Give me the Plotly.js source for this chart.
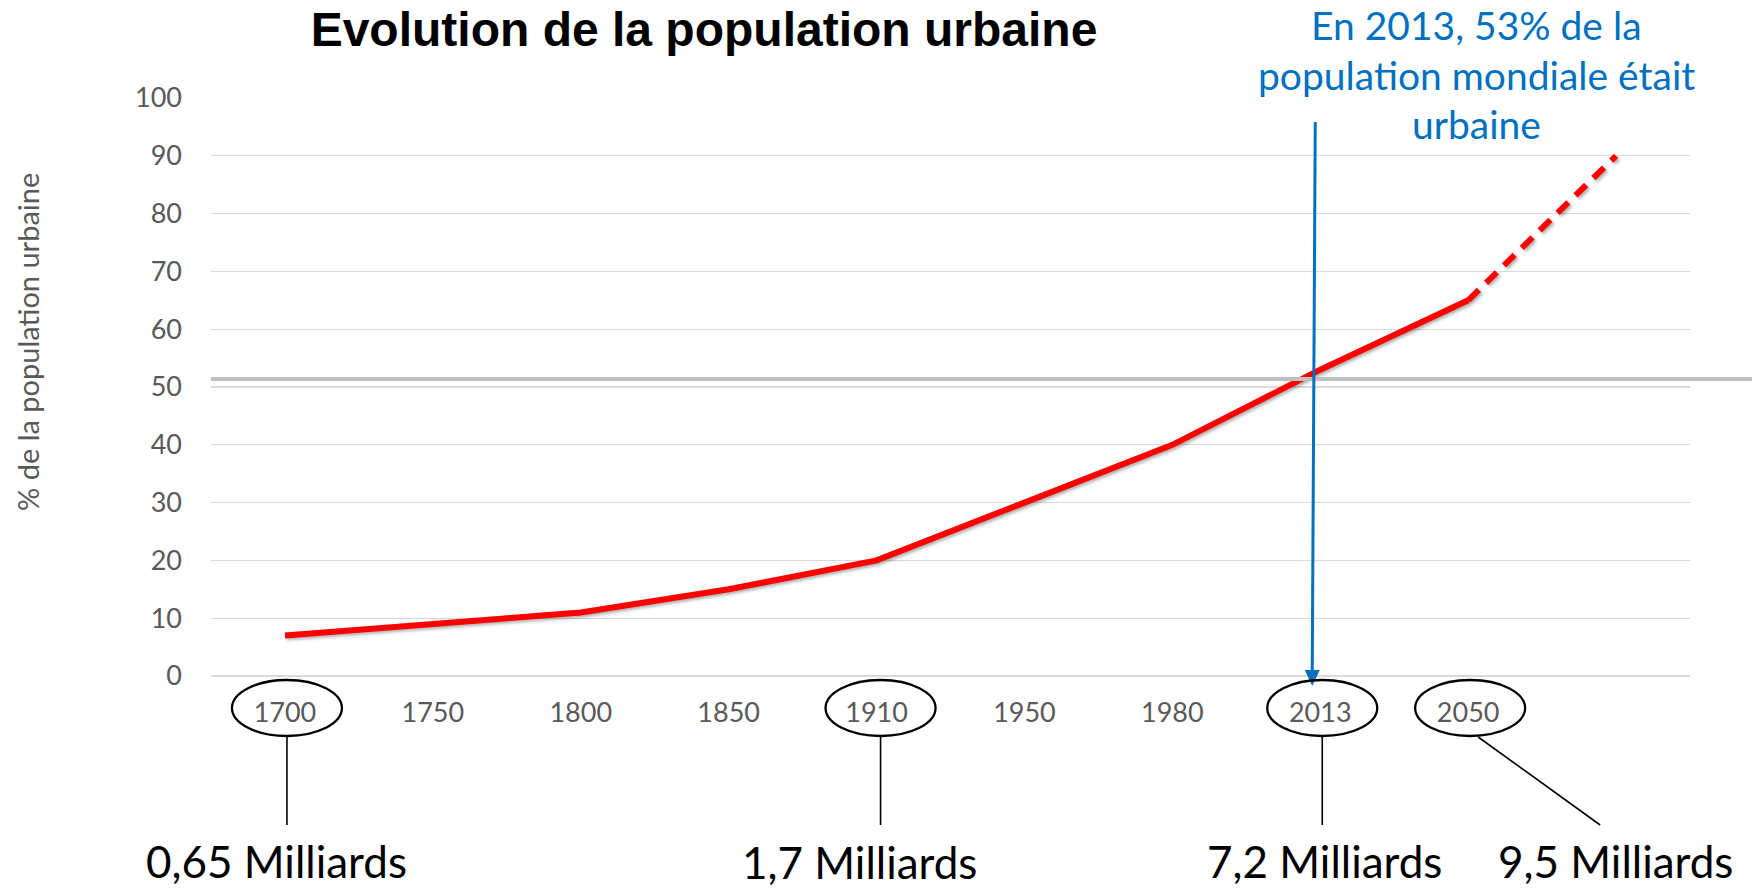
<!DOCTYPE html>
<html>
<head>
<meta charset="utf-8">
<script src="https://cdn.plot.ly/plotly-3.0.1.min.js"></script>
<style>
html, body { margin:0; padding:0; background:#ffffff; }
#chart { width:1752px; height:889px; }
</style>
</head>
<body>
<div id="chart"></div>
<script>
// ---------- data ----------
const years = ['1700', '1750', '1800', '1850', '1910', '1950', '1980', '2013', '2050', ' '];
const urbanPct = [7, 9, 11, 15, 20, 30, 40, 53, 65, null];
const projYears = ['2050', ' '];
const projPct = [65, 90];
const yTickVals = [0, 10, 20, 30, 40, 50, 60, 70, 80, 90, 100];
const circledYears = ['1700', '1910', '2013', '2050'];
const popLabels = ['0,65 Milliards', '1,7 Milliards', '7,2 Milliards', '9,5 Milliards'];
const refYear = '2013';
const refLineLevel = 51.4;
const titleText = 'Evolution de la population urbaine';
const yTitleText = '% de la population urbaine';
const noteLines = ['En 2013, 53% de la', 'population mondiale était', 'urbaine'];

// ---------- geometry helpers ----------
const W = 1752, H = 889;
const M = { l: 211, r: 62, t: 98, b: 213 };
const PW = W - M.l - M.r, PH = H - M.t - M.b;
const px2x = px => (px - M.l) / PW;
const px2y = py => (H - M.b - py) / PH;
const catPx = yr => M.l + (years.indexOf(yr) + 0.5) * PW / years.length;

const FONT = 'Lato, "Open Sans", sans-serif';
const shapes = [];
const annotations = [];

// reference grey line (spans past the plot to the right edge)
shapes.push({
  type: 'line', xref: 'paper', yref: 'paper', layer: 'above',
  x0: 0, x1: (W - M.l) / PW, y0: refLineLevel / 100, y1: refLineLevel / 100,
  line: { color: '#BFBFBF', width: 4 }
});

// blue arrow toward 2013
const ax = catPx(refYear) - 8;
shapes.push({
  type: 'line', xref: 'paper', yref: 'paper', layer: 'above',
  x0: px2x(ax + 3), y0: px2y(122), x1: px2x(ax), y1: px2y(672),
  line: { color: '#0070C0', width: 3 }
});
shapes.push({
  type: 'path', xref: 'paper', yref: 'paper', layer: 'above',
  path: 'M ' + px2x(ax - 7.5) + ' ' + px2y(670) + ' L ' + px2x(ax + 7.5) + ' ' + px2y(670) +
        ' L ' + px2x(ax) + ' ' + px2y(686) + ' Z',
  fillcolor: '#0070C0', line: { width: 0 }
});

// ellipses + connectors + population labels
const labelDx = [-10, -21, 2, 145];
const labelBase = [878, 879, 878, 878];
circledYears.forEach((yr, i) => {
  const cx = catPx(yr) + (i === 1 ? 4 : 2);
  shapes.push({
    type: 'circle', xref: 'paper', yref: 'paper', layer: 'above',
    x0: px2x(cx - 55), x1: px2x(cx + 55), y0: px2y(680), y1: px2y(736),
    line: { color: '#000000', width: 2.3 }
  });
  if (i < 3) {
    shapes.push({
      type: 'line', xref: 'paper', yref: 'paper',
      x0: px2x(cx), x1: px2x(cx), y0: px2y(737), y1: px2y(825),
      line: { color: '#000000', width: 1.6 }
    });
  } else {
    shapes.push({
      type: 'line', xref: 'paper', yref: 'paper',
      x0: px2x(cx + 8), x1: px2x(cx + 130), y0: px2y(737), y1: px2y(825),
      line: { color: '#000000', width: 1.6 }
    });
  }
  const fs = 44;
  annotations.push({
    xref: 'paper', yref: 'paper', x: px2x(cx + labelDx[i]), y: px2y(labelBase[i] - 0.387 * fs),
    xanchor: 'center', yanchor: 'middle', showarrow: false,
    text: popLabels[i], font: { family: FONT, size: fs, color: '#000000' }
  });
});

// blue note
const noteFs = 39;
const noteBase = [40, 90, 139.5];
noteLines.forEach((t, i) => {
  annotations.push({
    xref: 'paper', yref: 'paper', x: px2x(1476.5), y: px2y(noteBase[i] - 0.387 * noteFs),
    xanchor: 'center', yanchor: 'middle', showarrow: false,
    text: t, font: { family: FONT, size: noteFs, color: '#0070C0' }
  });
});

// y axis title
annotations.push({
  xref: 'paper', yref: 'paper', x: px2x(27), y: px2y(342),
  xanchor: 'center', yanchor: 'middle', showarrow: false, textangle: -90,
  text: yTitleText, font: { family: FONT, size: 29, color: '#595959' }
});

const traces = [
  {
    type: 'scatter', mode: 'lines', x: years, y: urbanPct,
    line: { color: '#FF0000', width: 6 }, connectgaps: false, hoverinfo: 'skip'
  },
  {
    type: 'scatter', mode: 'lines', x: projYears, y: projPct,
    line: { color: '#FF0000', width: 6, dash: '15px,10px' }, hoverinfo: 'skip'
  }
];

const layout = {
  width: W, height: H,
  margin: M,
  paper_bgcolor: '#ffffff', plot_bgcolor: '#ffffff',
  showlegend: false,
  title: {
    text: titleText, x: 704 / W, xanchor: 'center', xref: 'container',
    y: 1 - 28.9 / H, yanchor: 'middle', yref: 'container',
    font: { family: '"Liberation Sans", Arial, sans-serif', size: 48, color: '#000000', weight: 700 }
  },
  xaxis: {
    type: 'category', categoryorder: 'array', categoryarray: years,
    range: [-0.5, years.length - 0.5], fixedrange: true,
    showgrid: false, zeroline: false, showline: false, ticks: '',
    ticklabelstandoff: 18,
    tickfont: { family: FONT, size: 27, color: '#595959' }
  },
  yaxis: {
    range: [0, 100], tickvals: yTickVals, fixedrange: true,
    showgrid: true, gridcolor: '#D9D9D9', gridwidth: 1.3,
    zeroline: true, zerolinecolor: '#D9D9D9', zerolinewidth: 1.3,
    showline: false, ticks: '', ticklabelstandoff: 28,
    tickfont: { family: FONT, size: 27, color: '#595959' }
  },
  shapes: shapes,
  annotations: annotations
};

Plotly.newPlot('chart', traces, layout, { staticPlot: true, displayModeBar: false }).then(() => {
  document.querySelectorAll('.scatterlayer path.js-line').forEach(p => {
    p.style.filter = 'drop-shadow(2px 2px 1.5px rgba(0,0,0,0.3))';
  });
});
</script>
</body>
</html>
